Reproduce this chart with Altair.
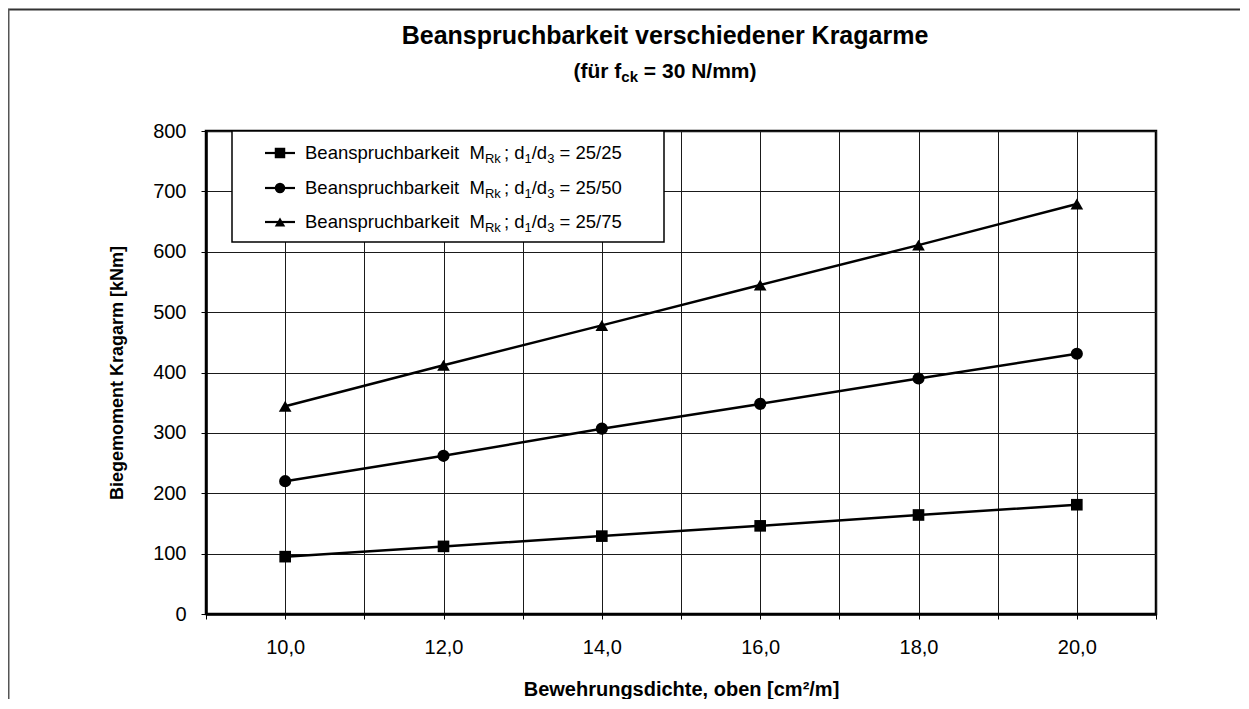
import altair as alt
import pandas as pd

# ---------------- data ----------------
x_vals = [10, 12, 14, 16, 18, 20]
series_names = ["25/25", "25/50", "25/75"]
m_2525 = [95, 112, 129, 146, 164, 181]
m_2550 = [220, 262, 307, 348, 390, 431]
m_2575 = [344, 412, 478, 545, 611, 679]
series_values = [m_2525, m_2550, m_2575]
series_shapes = ["square", "circle", "triangle-up"]
y_ticks = [0, 100, 200, 300, 400, 500, 600, 700, 800]
x_ticks = [9, 10, 11, 12, 13, 14, 15, 16, 17, 18, 19, 20, 21]

title_text = "Beanspruchbarkeit verschiedener Kragarme"
x_title = "Bewehrungsdichte, oben [cm²/m]"
y_title = "Biegemoment Kragarm [kNm]"

FONT = "Liberation Sans"
W, H = 950, 483

rows = []
for name, vals in zip(series_names, series_values):
    for xv, yv in zip(x_vals, vals):
        rows.append({"x": xv, "y": yv, "series": name})
df = pd.DataFrame(rows)

# --------- text width helper (Arial / Liberation Sans metrics) ---------
AR = {'B': 667, 'e': 556, 'a': 556, 'n': 556, 's': 500, 'p': 556, 'r': 333, 'u': 556,
      'c': 500, 'h': 556, 'b': 556, 'k': 500, 'i': 222, 't': 278, ' ': 278, '\u00a0': 278,
      'M': 833, 'R': 722, ';': 278, 'd': 556, '/': 278, '=': 584}
ARB = {'(': 333, ')': 333, 'f': 333, 'ü': 611, 'r': 389, ' ': 278, '\u00a0': 278, 'c': 556,
       'k': 556, '=': 584, 'N': 722, '/': 278, 'm': 889}


def tw(s, size, bold=False):
    m = ARB if bold else AR
    return sum(m.get(ch, 556) for ch in s) * size / 1000.0


NB = "\u00a0"

# --------- manual legend (subscripts need separate text pieces) ---------
LEG_FS, LEG_SUB = 18.5, 13
row_y = [22, 57, 91]
text_x0 = 99
leg_text = []
leg_sym = []
for name, shp, ry in zip(series_names, series_shapes, row_y):
    # (text, is_subscript, gap before in space widths)
    pieces = [("Beanspruchbarkeit" + NB + NB + "M", False, 0), ("Rk", True, 0),
              (";" + NB + "d", False, 0.6), ("1", True, 0), ("/d", False, 0), ("3", True, 0),
              ("=" + NB + name, False, 1)]
    xx = text_x0
    base = ry + 6
    for txt, sub, gap in pieces:
        fs = LEG_SUB if sub else LEG_FS
        xx += gap * tw(" ", LEG_FS)
        leg_text.append({"px": xx, "py": base + (4 if sub else 0), "t": txt, "fs": fs})
        xx += tw(txt, fs)
    leg_sym.append({"py": ry, "shape": shp})
leg_text = pd.DataFrame(leg_text)
leg_sym = pd.DataFrame(leg_sym)

# --------- subtitle pieces  (für f_ck = 30 N/mm) ---------
SUB_FS = 21
sub_pieces = [("(für" + NB + "f", SUB_FS, 0, 0), ("ck", 15, 4, 0),
              ("=" + NB + "30" + NB + "N/mm)", SUB_FS, 0, 1)]
total = sum(tw(t, s, True) + g * tw(" ", SUB_FS, True) for t, s, _, g in sub_pieces)
xx = 459 - total / 2
st_rows = []
for t, s, dy, g in sub_pieces:
    xx += g * tw(" ", SUB_FS, True)
    st_rows.append({"px": xx, "py": -53 + dy, "t": t, "fs": s})
    xx += tw(t, s, True)
sub_df = pd.DataFrame(st_rows)

one = pd.DataFrame({"a": [0]})

# ---------------- chart ----------------
xenc = alt.X("x:Q", scale=alt.Scale(domain=[9, 21], nice=False, zero=False),
             axis=alt.Axis(values=x_ticks, grid=True, title=x_title,
                           labelExpr="datum.value % 2 == 0 ? replace(format(datum.value, '.1f'), '.', ',') : ''",
                           labelOverlap=False, labelFlush=False,
                           labelFontSize=20, labelPadding=18,
                           titleFontSize=20, titlePadding=22))
yenc = alt.Y("y:Q", scale=alt.Scale(domain=[0, 800], nice=False),
             axis=alt.Axis(values=y_ticks, grid=True, title=y_title,
                           labelFontSize=20, labelPadding=15, labelFlush=False,
                           titleFontSize=18, titlePadding=26))

base = alt.Chart(df)
lines = base.mark_line(color="black", strokeWidth=2.5).encode(
    x=xenc, y=yenc, detail="series:N")
points = base.mark_point(filled=True, opacity=1, color="black").encode(
    x="x:Q", y="y:Q",
    shape=alt.Shape("series:N", scale=alt.Scale(domain=series_names, range=series_shapes), legend=None),
    size=alt.Size("series:N", scale=alt.Scale(domain=series_names, range=[135, 160, 190]), legend=None))

leg_box = alt.Chart(one).mark_rect(fill="white", stroke="black", strokeWidth=1.5).encode(
    x=alt.value(26), x2=alt.value(458), y=alt.value(0), y2=alt.value(111))
leg_lines = alt.Chart(leg_sym).mark_rule(color="black", strokeWidth=2.2).encode(
    x=alt.value(59), x2=alt.value(89), y=alt.Y("py:Q", scale=None))
leg_marks = alt.Chart(leg_sym).mark_point(filled=True, opacity=1, color="black", size=110).encode(
    x=alt.value(74), y=alt.Y("py:Q", scale=None), shape=alt.Shape("shape:N", scale=None))
leg_labels = alt.Chart(leg_text).mark_text(align="left", baseline="alphabetic", font=FONT,
                                           color="black").encode(
    x=alt.X("px:Q", scale=None), y=alt.Y("py:Q", scale=None), text="t:N",
    size=alt.Size("fs:Q", scale=None))

title_mark = alt.Chart(one).mark_text(text=title_text, align="center", baseline="alphabetic",
                                      font=FONT, fontWeight="bold", fontSize=25, color="black").encode(
    x=alt.value(459), y=alt.value(-87))
subtitle = alt.Chart(sub_df).mark_text(align="left", baseline="alphabetic", font=FONT,
                                       fontWeight="bold", color="black").encode(
    x=alt.X("px:Q", scale=None), y=alt.Y("py:Q", scale=None), text="t:N",
    size=alt.Size("fs:Q", scale=None))

frame_top = alt.Chart(one).mark_rule(color="#333", strokeWidth=2).encode(
    x=alt.value(-199), x2=alt.value(1040), y=alt.value(-121.5))
frame_left = alt.Chart(one).mark_rule(color="#555", strokeWidth=2).encode(
    x=alt.value(-197.5), y=alt.value(-122), y2=alt.value(700))

chart = alt.layer(lines, points, leg_box, leg_lines, leg_marks, leg_labels,
                  title_mark, subtitle, frame_top, frame_left).properties(
    width=W, height=H,
    autosize=alt.AutoSizeParams(type="none"),
    padding={"left": 198, "top": 123, "right": 84, "bottom": 85},
    background="white",
).configure_view(stroke="black", strokeWidth=2.5).configure_axis(
    labelFont=FONT, titleFont=FONT, labelColor="black", titleColor="black",
    titleFontWeight="bold", gridColor="#1a1a1a", gridWidth=1, gridOpacity=1,
    domainColor="black", domainWidth=2.5, tickColor="black", tickWidth=1, tickSize=5)

chart.save("out.html", embed_options={"renderer": "svg", "actions": False})
